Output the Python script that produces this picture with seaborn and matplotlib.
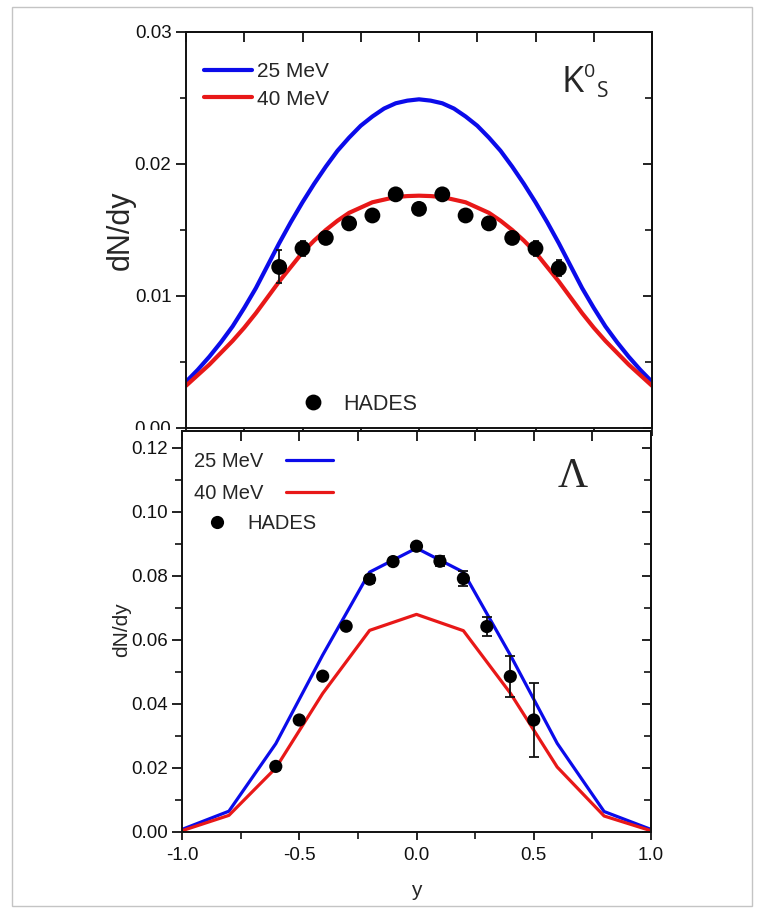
import matplotlib
matplotlib.use("Agg")
import matplotlib.pyplot as plt
import pandas as pd
import seaborn as sns
from matplotlib.lines import Line2D
from matplotlib.patches import Rectangle
from matplotlib.ticker import MultipleLocator, FormatStrFormatter

# ---- K0S rapidity distribution ----
k_y = [-1.0, -0.95, -0.9, -0.85, -0.8, -0.75, -0.7, -0.65, -0.6, -0.55, -0.5,
       -0.45, -0.4, -0.35, -0.3, -0.25, -0.2, -0.15, -0.1, -0.05, 0.0,
       0.05, 0.1, 0.15, 0.2, 0.25, 0.3, 0.35, 0.4, 0.45, 0.5,
       0.55, 0.6, 0.65, 0.7, 0.75, 0.8, 0.85, 0.9, 0.95, 1.0]
k_25 = [0.0035, 0.0044, 0.0054, 0.0065, 0.0077, 0.0091, 0.0106, 0.0123, 0.0140, 0.0156, 0.0171,
        0.0185, 0.0198, 0.0210, 0.0220, 0.0229, 0.0236, 0.0242, 0.0246, 0.0248, 0.0249,
        0.0248, 0.0246, 0.0242, 0.0236, 0.0229, 0.0220, 0.0210, 0.0198, 0.0185, 0.0171,
        0.0156, 0.0140, 0.0123, 0.0106, 0.0091, 0.0077, 0.0065, 0.0054, 0.0044, 0.0035]
k_40 = [0.0032, 0.0040, 0.0048, 0.0057, 0.0066, 0.0076, 0.0087, 0.0099, 0.0111, 0.0122, 0.0133,
        0.0142, 0.0150, 0.0157, 0.0163, 0.0167, 0.0171, 0.0173, 0.0175, 0.01757, 0.0176,
        0.01757, 0.0175, 0.0173, 0.0171, 0.0167, 0.0163, 0.0157, 0.0150, 0.0142, 0.0133,
        0.0122, 0.0111, 0.0099, 0.0087, 0.0076, 0.0066, 0.0057, 0.0048, 0.0040, 0.0032]
k_hades_y = [-0.6, -0.5, -0.4, -0.3, -0.2, -0.1, 0.0, 0.1, 0.2, 0.3, 0.4, 0.5, 0.6]
k_hades = [0.0122, 0.0136, 0.0144, 0.0155, 0.0161, 0.0177, 0.0166, 0.0177, 0.0161, 0.0155, 0.0144, 0.0136, 0.0121]
k_hades_err = [0.00125, 0.0006, 0.0004, 0.0003, 0.0003, 0.0003, 0.0003, 0.0003, 0.0003, 0.0003, 0.0004, 0.0006, 0.0006]

# ---- Lambda rapidity distribution ----
lam_y = [-1.0, -0.8, -0.6, -0.4, -0.2, 0.0, 0.2, 0.4, 0.6, 0.8, 1.0]
lam_25 = [0.0008, 0.0065, 0.0276, 0.0553, 0.0812, 0.0887, 0.0812, 0.0553, 0.0277, 0.0064, 0.0008]
lam_40 = [0.0004, 0.0052, 0.0200, 0.0433, 0.0630, 0.0680, 0.0629, 0.0434, 0.0203, 0.0050, 0.0004]
lam_hades_y = [-0.6, -0.5, -0.4, -0.3, -0.2, -0.1, 0.0, 0.1, 0.2, 0.3, 0.4, 0.5]
lam_hades = [0.0205, 0.0350, 0.0487, 0.0643, 0.0790, 0.0845, 0.0893, 0.0846, 0.0792, 0.0642, 0.0486, 0.0350]
lam_hades_err = [0.0012, 0.0008, 0.0008, 0.0010, 0.0012, 0.0012, 0.0010, 0.0015, 0.0023, 0.0031, 0.0064, 0.0116]

labels = ["25 MeV", "40 MeV", "HADES"]
colors = {"25 MeV": "#0b0bea", "40 MeV": "#e81818"}

sns.set_theme(style="ticks")
plt.rcParams["font.family"] = ["Liberation Sans", "DejaVu Sans"]
plt.rcParams["axes.unicode_minus"] = False
plt.rcParams["axes.linewidth"] = 1.4
plt.rcParams["axes.edgecolor"] = "#111111"
plt.rcParams["xtick.color"] = "#111111"
plt.rcParams["ytick.color"] = "#111111"

W, H = 762, 911
fig = plt.figure(figsize=(W / 100, H / 100), dpi=100)
fig.patch.set_facecolor("white")


def box(x0, y0, x1, y1):
    return [x0 / W, 1 - y1 / H, (x1 - x0) / W, (y1 - y0) / H]


ax1 = fig.add_axes(box(186, 32, 652, 428))
ax2 = fig.add_axes(box(182, 431, 651, 832))
ax1.set_zorder(0)
ax2.set_zorder(2)

# white strip of the lower panel covering the upper panel's bottom margin
fig.add_artist(Rectangle((90 / W, 1 - 446 / H), (182 - 90) / W, 16 / H,
                         transform=fig.transFigure, facecolor="white",
                         edgecolor="none", zorder=1))


def curves_frame(x, a, b):
    return pd.DataFrame({"y": x * 2, "dndy": a + b,
                         "model": [labels[0]] * len(x) + [labels[1]] * len(x)})


def style_axes(ax, ymaj, ymin, ylim, xlabels, ylen=(7, 4.5)):
    ax.set_xlim(-1.0, 1.0)
    ax.set_ylim(*ylim)
    ax.yaxis.set_major_locator(MultipleLocator(ymaj))
    ax.yaxis.set_minor_locator(MultipleLocator(ymin))
    ax.yaxis.set_major_formatter(FormatStrFormatter("%.2f"))
    ax.tick_params(axis="y", which="major", direction="out", length=ylen[0], width=1.3,
                   labelsize=13.5, pad=3)
    ax.tick_params(axis="y", which="minor", direction="out", length=ylen[1], width=1.2)
    sec_r = ax.secondary_yaxis("right")
    sec_r.yaxis.set_major_locator(MultipleLocator(ymaj))
    sec_r.yaxis.set_minor_locator(MultipleLocator(ymin))
    sec_r.tick_params(axis="y", which="major", direction="in", length=6.5, width=1.3, labelright=False)
    sec_r.tick_params(axis="y", which="minor", direction="in", length=5, width=1.2)
    sec_t = ax.secondary_xaxis("top")
    sec_t.xaxis.set_major_locator(MultipleLocator(0.25))
    sec_t.tick_params(axis="x", which="major", direction="in", length=7.5, width=1.3, labeltop=False)
    for s in list(sec_r.spines.values()) + list(sec_t.spines.values()):
        s.set_linewidth(1.4)
    if xlabels:
        ax.xaxis.set_major_locator(MultipleLocator(0.5))
        ax.xaxis.set_minor_locator(MultipleLocator(0.25))
        ax.xaxis.set_major_formatter(FormatStrFormatter("%.1f"))
        ax.tick_params(axis="x", which="major", direction="out", length=6, width=1.3,
                       labelsize=13.5, pad=5)
        ax.tick_params(axis="x", which="minor", direction="out", length=5, width=1.2)
    else:
        ax.xaxis.set_major_locator(MultipleLocator(0.25))
        ax.tick_params(axis="x", which="major", direction="out", length=6, width=1.3,
                       labelbottom=False)


# ---- upper panel: K0S ----
sns.lineplot(data=curves_frame(k_y, k_25, k_40), x="y", y="dndy", hue="model",
             palette=colors, linewidth=3.0, sort=False, estimator=None,
             legend=False, ax=ax1)
ax1.errorbar(k_hades_y, k_hades, yerr=k_hades_err, fmt="none", ecolor="#111111",
             elinewidth=1.3, capsize=2.5, capthick=1.3, zorder=3)
sns.scatterplot(x=k_hades_y, y=k_hades, color="black", s=130, edgecolor="none",
                zorder=4, ax=ax1)
style_axes(ax1, 0.01, 0.005, (0.0, 0.03), xlabels=False, ylen=(7.5, 4.5))
ax1.set_xlabel("")
ax1.set_ylabel("dN/dy", fontsize=22)
ax1.yaxis.set_label_coords((121 - 186) / 466, (428 - 230) / 396)
ax1.yaxis.label.set_va("center")

h25 = Line2D([], [], color=colors["25 MeV"], lw=3.0)
h40 = Line2D([], [], color=colors["40 MeV"], lw=3.0)
hh = Line2D([], [], color="black", marker="o", ls="none", markersize=11.4, markeredgewidth=0)
leg1 = ax1.legend([h25, h40], labels[:2], loc="upper left",
                  bbox_to_anchor=((204 - 186) / 466, (428 - 62) / 396),
                  frameon=False, fontsize=15, handlelength=2.3, handletextpad=0.25,
                  borderpad=0, borderaxespad=0, labelspacing=0.42)
ax1.add_artist(leg1)
ax1.legend([hh], labels[2:], loc="upper left",
           bbox_to_anchor=((302 - 186) / 466, (428 - 394) / 396),
           frameon=False, fontsize=15.5, handlelength=1.0, handletextpad=0.92,
           borderpad=0, borderaxespad=0)

# ---- lower panel: Lambda ----
sns.lineplot(data=curves_frame(lam_y, lam_25, lam_40), x="y", y="dndy", hue="model",
             palette=colors, linewidth=2.3, sort=False, estimator=None,
             legend=False, ax=ax2)
ax2.errorbar(lam_hades_y, lam_hades, yerr=lam_hades_err, fmt="none", ecolor="#111111",
             elinewidth=1.3, capsize=3.3, capthick=1.3, zorder=3)
sns.scatterplot(x=lam_hades_y, y=lam_hades, color="black", s=90, edgecolor="none",
                zorder=4, ax=ax2)
style_axes(ax2, 0.02, 0.01, (0.0, 0.1253), xlabels=True, ylen=(7, 5))
ax2.set_xlabel("y", fontsize=15)
ax2.xaxis.set_label_coords(0.5, (832 - 890) / 401)
ax2.xaxis.label.set_va("center")
ax2.set_ylabel("dN/dy", fontsize=15)
ax2.yaxis.set_label_coords((122 - 182) / 469, (832 - 630) / 401)
ax2.yaxis.label.set_va("center")

l25 = Line2D([], [], color=colors["25 MeV"], lw=2.3)
l40 = Line2D([], [], color=colors["40 MeV"], lw=2.3)
lh = Line2D([], [], color="black", marker="o", ls="none", markersize=9.5, markeredgewidth=0)
leg2 = ax2.legend([l25, l40], labels[:2], loc="upper left", markerfirst=False,
                  bbox_to_anchor=((194 - 182) / 469, (832 - 452) / 401),
                  frameon=False, fontsize=14.5, handlelength=2.35, handletextpad=1.1,
                  borderpad=0, borderaxespad=0, labelspacing=0.65)
ax2.add_artist(leg2)
ax2.legend([lh], labels[2:], loc="upper left",
           bbox_to_anchor=((207 - 182) / 469, (832 - 514) / 401),
           frameon=False, fontsize=14.5, handlelength=1.0, handletextpad=1.0,
           borderpad=0, borderaxespad=0)

# ---- particle labels ----
def px(x, y):
    return x / W, 1 - y / H

fig.text(*px(572.5, 92), "K", fontsize=26, family="Open Sans", ha="center", va="baseline")
fig.text(*px(590, 77), "0", fontsize=14, family="Open Sans", ha="center", va="baseline")
fig.text(*px(602.5, 97), "S", fontsize=15, family="Open Sans", ha="center", va="baseline")
fig.text(*px(573, 487), "\u039b", fontsize=30, family="Liberation Serif", ha="center", va="baseline",
         zorder=5)

# thin page frame
fig.add_artist(Rectangle((12 / W, 1 - 906 / H), (752 - 12) / W, (906 - 7) / H,
                         transform=fig.transFigure, facecolor="none",
                         edgecolor="#c4c4c4", lw=1.0, zorder=6))

fig.savefig("out.png", dpi=100)
